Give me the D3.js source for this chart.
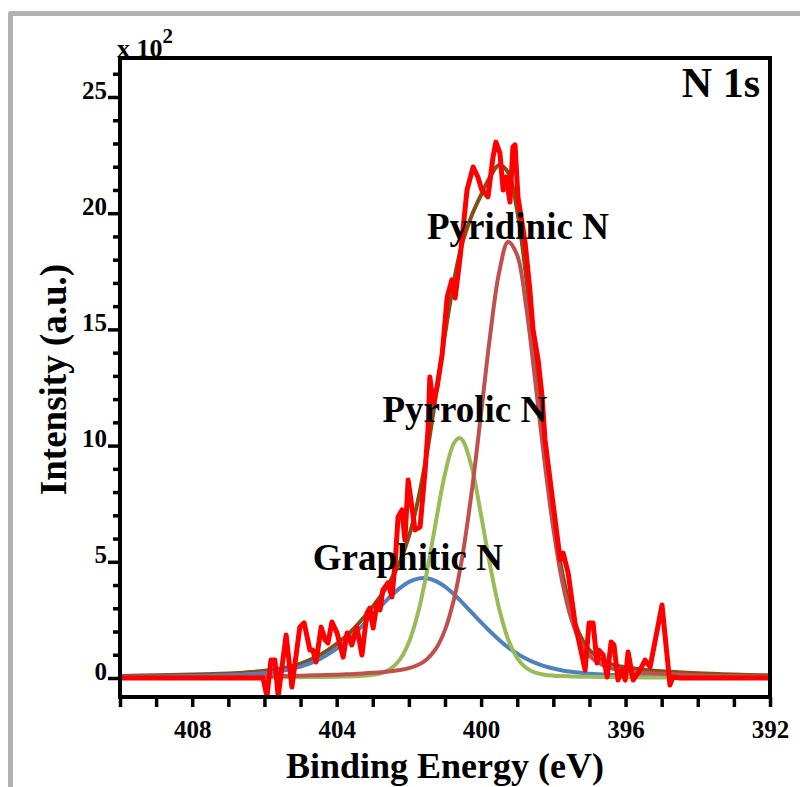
<!DOCTYPE html>
<html><head><meta charset="utf-8">
<script src="https://cdn.jsdelivr.net/npm/d3@7"></script>
<style>
body{margin:0;background:#fff}
svg{display:block}
text{font-family:"Liberation Serif","Times New Roman",serif;font-weight:bold;fill:#000}
</style>
</head><body>
<svg id="chart" width="800" height="787"></svg>
<script>
// ---------- data (binding energy in eV, intensity in counts) ----------
const energyGrid = [410, 409, 408, 407, 406.5, 406, 405.5, 405, 404.5, 404, 403.75, 403.5, 403.25, 403, 402.75, 402.5, 402.25, 402, 401.75, 401.5, 401.25, 401, 400.75, 400.6, 400.5, 400.25, 400, 399.75, 399.5, 399.25, 399, 398.75, 398.5, 398.25, 398, 397.75, 397.5, 397.25, 397, 396.5, 396, 395.5, 395, 394, 393, 392];
const pyridinicN = [3, 3.5, 4.3, 5.5, 6.3, 7.2, 8.4, 9.8, 11.7, 14.2, 15.7, 17.5, 19.6, 22.1, 25.1, 29.1, 34.4, 42.5, 56, 81, 126, 207, 340, 452, 541, 814, 1140, 1474, 1746, 1877, 1819, 1595, 1276, 940, 643, 412, 253, 153, 96, 47, 31, 23, 18, 12, 8.6, 6.4];
const pyrrolicN = [0.8, 1.0, 1.3, 1.7, 2.0, 2.3, 2.8, 3.5, 4.4, 5.7, 6.6, 7.7, 9.8, 13.5, 21.5, 40, 79, 154, 279, 458, 674, 879, 1011, 1033, 1020, 900, 700, 483, 298, 166, 86, 43, 23, 14, 10, 8.1, 6.7, 5.8, 5.1, 4.0, 3.2, 2.6, 2.2, 1.6, 1.2, 0.9];
const graphiticN = [5.4, 6.8, 9.0, 12.7, 15.9, 21.4, 31.3, 49, 79, 126.5, 157, 192, 231, 272, 313, 353, 387, 413, 427.5, 429, 417, 393, 360, 337, 321, 280, 239, 200, 164, 132, 105, 83, 65, 51, 40.7, 32.6, 26.6, 22.1, 18.8, 14.4, 11.7, 9.8, 8.5, 6.5, 5.1, 4.1];
const envelopeFit = [9.1, 11.3, 14.6, 19.9, 24.2, 30.9, 42.5, 62.3, 95.4, 146.4, 179.3, 217.2, 260.4, 307.6, 359.6, 421.9, 500.2, 609.2, 762.5, 967.6, 1217, 1479, 1711, 1822, 1882, 1994, 2079, 2157, 2207.5, 2174.7, 2009.5, 1721, 1364, 1005, 694, 452.7, 286.3, 180.9, 119.9, 65.4, 45.9, 35.7, 29, 20.2, 14.9, 11.4];

const rawEnergy = [410.00, 406.04, 405.93, 405.82, 405.71, 405.62, 405.40, 405.24, 405.02, 404.90, 404.74, 404.66, 404.57, 404.43, 404.32, 404.24, 404.13, 403.99, 403.82, 403.71, 403.58, 403.44, 403.30, 403.16, 403.08, 402.99, 402.88, 402.80, 402.72, 402.58, 402.47, 402.38, 402.30, 402.19, 402.11, 402.02, 401.83, 401.69, 401.55, 401.47, 401.42, 401.33, 401.22, 401.08, 400.94, 400.81, 400.72, 400.58, 400.39, 400.22, 400.09, 399.98, 399.81, 399.67, 399.59, 399.48, 399.39, 399.31, 399.20, 399.12, 399.06, 398.98, 398.78, 398.65, 398.56, 398.42, 398.31, 398.23, 398.09, 397.95, 397.81, 397.73, 397.59, 397.40, 397.12, 397.01, 396.90, 396.79, 396.74, 396.62, 396.51, 396.40, 396.32, 396.21, 396.10, 396.01, 395.93, 395.79, 395.60, 395.46, 395.32, 394.99, 394.77, 394.69, 394.49, 392.00];
const rawIntensity = [0, 0, -80, 77, 77, -80, 185, -39, 219, 237, 120, 120, 69, 219, 164, 151, 241, 194, 90, 194, 142, 219, 99, 280, 301, 215, 323, 293, 379, 409, 349, 495, 693, 723, 594, 852, 637, 650, 895, 1067, 1295, 1183, 1252, 1390, 1639, 1713, 1635, 1812, 2100, 2199, 2156, 2100, 2070, 2242, 2306, 2259, 2100, 2156, 2048, 2285, 2294, 2070, 1872, 1670, 1497, 1368, 1209, 1024, 852, 680, 508, 538, 452, 237, 34, 237, 237, 65, 120, 99, 4, 155, 142, -9, 34, -9, 112, -9, 34, 77, 47, 314, -30, 4, 0, 0];

const xMajorTicks = [408, 404, 400, 396, 392];
const xMinorTicks = [410, 409, 407, 406, 405, 403, 402, 401, 399, 398, 397, 395, 394, 393];
const yMajorTicks = [0, 500, 1000, 1500, 2000, 2500];
const yMinorTicks = [100, 200, 300, 400, 600, 700, 800, 900, 1100, 1200, 1300, 1400, 1600, 1700, 1800, 1900, 2100, 2200, 2300, 2400, 2600];
const peakLabels = [
  {text: "Pyridinic N", be: 401.5, v: 1890},
  {text: "Pyrrolic N", be: 402.73, v: 1103},
  {text: "Graphitic N", be: 404.66, v: 465}
];

// ---------- layout ----------
const svg = d3.select("#chart");
const plot = {left: 120, right: 770, top: 58, bottom: 697};
const x = d3.scaleLinear().domain([410, 392]).range([plot.left, plot.right]);
const y = d3.scaleLinear().domain([0, 2500]).range([678, 97]);

svg.append("rect").attr("width", 800).attr("height", 787).attr("fill", "#fff");
// grey outer frame (partially cut)
svg.append("path").attr("d", "M10.5,787V13.5H800").attr("fill", "none")
  .attr("stroke", "#b5b1b1").attr("stroke-width", 5).attr("stroke-linejoin", "round");

svg.append("clipPath").attr("id", "clip").append("rect")
  .attr("x", plot.left).attr("y", plot.top)
  .attr("width", plot.right - plot.left).attr("height", plot.bottom - plot.top);

const g = svg.append("g").attr("clip-path", "url(#clip)");
const smooth = d3.line().x((d, i) => x(energyGrid[i])).y(d => y(d)).curve(d3.curveCatmullRom.alpha(0.5));

const series = [
  {vals: envelopeFit, color: "#825014", w: 4},
  {vals: graphiticN, color: "#4f81bd", w: 4},
  {vals: pyrrolicN, color: "#9bbb59", w: 4},
  {vals: pyridinicN, color: "#c0504d", w: 4}
];
series.forEach(s => {
  g.append("path").datum(s.vals).attr("d", smooth).attr("fill", "none")
    .attr("stroke", s.color).attr("stroke-width", s.w).attr("stroke-linejoin", "round");
});
const rawLine = d3.line().x((d, i) => x(rawEnergy[i])).y(d => y(d));
g.append("path").datum(rawIntensity).attr("d", rawLine).attr("fill", "none")
  .attr("stroke", "#ff0000").attr("stroke-width", 5).attr("stroke-linejoin", "round");

// ---------- axes ----------
const axB = svg.append("g").attr("transform", `translate(0,${plot.bottom})`)
  .call(d3.axisBottom(x).tickValues(xMajorTicks).tickSize(10).tickFormat(d3.format("d")));
axB.select(".domain").remove();
axB.selectAll(".tick line").attr("stroke", "#000").attr("stroke-width", 3.5);
axB.selectAll(".tick text").attr("y", 41).attr("dy", 0).style("font-size", "25px");
const axBm = svg.append("g").attr("transform", `translate(0,${plot.bottom})`)
  .call(d3.axisBottom(x).tickValues(xMinorTicks).tickSize(10).tickFormat(""));
axBm.select(".domain").remove();
axBm.selectAll(".tick line").attr("stroke", "#000").attr("stroke-width", 3.5);

const axL = svg.append("g").attr("transform", `translate(${plot.left},0)`)
  .call(d3.axisLeft(y).tickValues(yMajorTicks).tickSize(12).tickFormat(d => d / 100));
axL.select(".domain").remove();
axL.selectAll(".tick line").attr("stroke", "#000").attr("stroke-width", 3.5);
axL.selectAll(".tick text").attr("x", -13).attr("dy", 1).style("font-size", "25px");
const axLm = svg.append("g").attr("transform", `translate(${plot.left},0)`)
  .call(d3.axisLeft(y).tickValues(yMinorTicks).tickSize(7).tickFormat(""));
axLm.select(".domain").remove();
axLm.selectAll(".tick line").attr("stroke", "#000").attr("stroke-width", 3.5);
svg.selectAll(".tick text").attr("fill", "#000").style("font-family", '"Liberation Serif","Times New Roman",serif').style("font-weight", "bold");

svg.append("rect").attr("x", plot.left).attr("y", plot.top)
  .attr("width", plot.right - plot.left).attr("height", plot.bottom - plot.top)
  .attr("fill", "none").attr("stroke", "#000").attr("stroke-width", 4);

// ---------- texts ----------
const mult = svg.append("text").attr("x", 117).attr("y", 57).style("font-size", "26px").text("x 10");
mult.append("tspan").attr("dy", -14).style("font-size", "21px").text("2");

svg.append("text").attr("x", 760).attr("y", 97).attr("text-anchor", "end")
  .style("font-size", "42px").text("N 1s");

svg.append("text").attr("x", (plot.left + plot.right) / 2).attr("y", 778)
  .attr("text-anchor", "middle").style("font-size", "36px").text("Binding Energy (eV)");
svg.append("text").attr("transform", `translate(66,${(plot.top + plot.bottom) / 2 + 2}) rotate(-90)`)
  .attr("text-anchor", "middle").style("font-size", "37px").text("Intensity (a.u.)");

peakLabels.forEach(p => {
  svg.append("text").attr("x", x(p.be)).attr("y", y(p.v)).style("font-size", "37px").text(p.text);
});
</script>
</body></html>
